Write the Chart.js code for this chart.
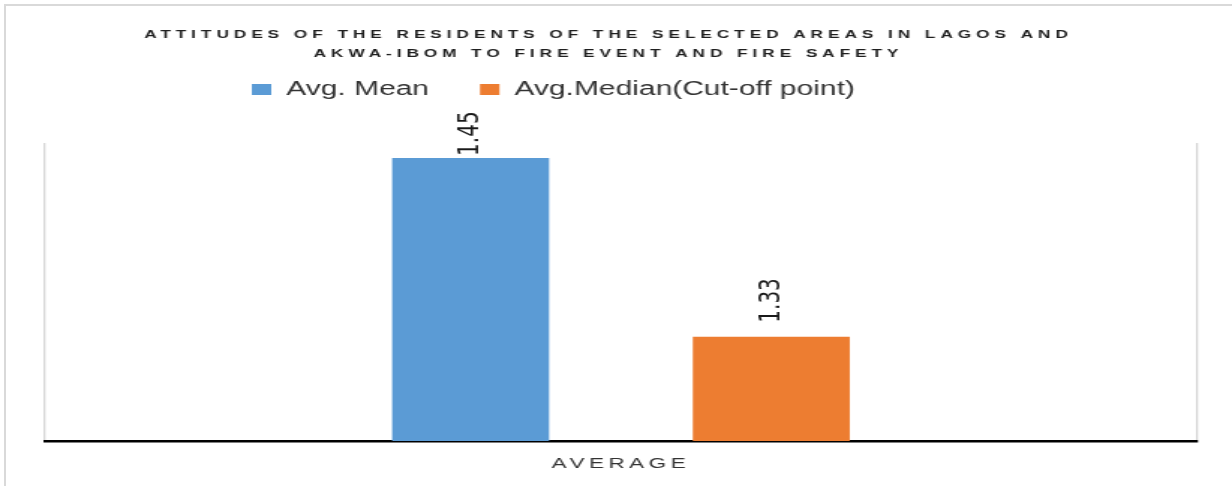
<!DOCTYPE html>
<html>
<head>
<meta charset="utf-8">
<script src="https://cdn.jsdelivr.net/npm/chart.js@4.4.0/dist/chart.umd.min.js"></script>
<style>
    html, body { margin: 0; padding: 0; background: #fff; }
    #wrap { position: relative; width: 1232px; height: 486px; overflow: hidden; background: #fff; }
    #frame { position: absolute; left: 4px; top: 4px; right: 0; bottom: 0;
             border-top: 2px solid #d9d9d9; border-left: 2px solid #d9d9d9; }
    /* the picture is stretched sideways, so draw narrow and scale it out */
    #chart { position: absolute; left: 0; top: 0; width: 822px; height: 486px;
             transform: scaleX(1.49878); transform-origin: 0 0; }
</style>
</head>
<body>
<div id="wrap">
    <div id="frame"></div>
    <canvas id="chart" width="822" height="486"></canvas>
</div>
<script>
var titleLines = [
    'ATTITUDES OF THE RESIDENTS OF THE SELECTED AREAS IN LAGOS AND',
    'AKWA-IBOM TO FIRE EVENT AND FIRE SAFETY'
];
var categories = ['AVERAGE'];
var seriesNames = ['Avg. Mean', 'Avg.Median(Cut-off point)'];
var meanValues = [1.45];
var medianValues = [1.33];
var yMin = 1.26;
var yMax = 1.46;

// letter spacing for one drawing method of a chart box
function spaceOut(obj, method, spacing) {
    if (!obj || obj[method]._spaced) return;
    var orig = obj[method];
    obj[method] = function () {
        var ctx = this.ctx;
        ctx.save();
        ctx.letterSpacing = spacing;
        orig.apply(this, arguments);
        ctx.restore();
    };
    obj[method]._spaced = true;
}

var spacedText = {
    id: 'spacedText',
    beforeDraw: function (chart) {
        spaceOut(chart.titleBlock, 'draw', '3.3px');
        spaceOut(chart.scales.x, 'drawLabels', '3px');
    }
};

var legendPlace = {
    id: 'legendPlace',
    afterLayout: function (chart, args, opts) {
        var lg = chart.legend;
        var w = lg.width, h = lg.height;
        lg.left = opts.x;
        lg.right = opts.x + w;
        lg.top = opts.y;
        lg.bottom = opts.y + h;
    }
};

var barLabels = {
    id: 'barLabels',
    afterDatasetsDraw: function (chart, args, opts) {
        var ctx = chart.ctx;
        chart.data.datasets.forEach(function (ds, i) {
            var meta = chart.getDatasetMeta(i);
            meta.data.forEach(function (bar, j) {
                ctx.save();
                ctx.translate(bar.x, bar.y - opts.gaps[i]);
                ctx.rotate(-Math.PI / 2);
                ctx.font = opts.font;
                ctx.fillStyle = opts.color;
                ctx.textAlign = 'left';
                ctx.textBaseline = 'middle';
                ctx.fillText(ds.data[j].toFixed(2), 0, 0);
                ctx.restore();
            });
        });
    }
};

new Chart(document.getElementById('chart'), {
    type: 'bar',
    data: {
        labels: categories,
        datasets: [{
            label: seriesNames[0],
            data: meanValues,
            backgroundColor: '#5B9BD5',
            categoryPercentage: 0.522,
            barPercentage: 0.522
        }, {
            label: seriesNames[1],
            data: medianValues,
            backgroundColor: '#ED7D31',
            categoryPercentage: 0.522,
            barPercentage: 0.522
        }]
    },
    options: {
        responsive: false,
        animation: false,
        devicePixelRatio: 1,
        layout: { padding: { left: 13.4, right: 23.4, top: 0, bottom: 0 } },
        plugins: {
            title: {
                display: true,
                text: titleLines,
                color: '#1f1f1f',
                font: { family: 'Liberation Sans', size: 11.5, weight: 'bold', lineHeight: '19px' },
                padding: { top: 25.5, bottom: 15.5 }
            },
            legend: {
                display: true,
                align: 'start',
                labels: {
                    boxWidth: 13,
                    boxHeight: 11,
                    padding: 34,
                    color: '#333333',
                    font: { family: 'Liberation Sans', size: 20 }
                }
            },
            tooltip: { enabled: false },
            legendPlace: { x: 134, y: 45.5 },
            barLabels: {
                gaps: [2, 14],
                font: '20px "DejaVu Sans"',
                color: '#1a1a1a'
            }
        },
        scales: {
            x: {
                offset: true,
                grid: { color: '#d6d6d6', lineWidth: 1.3, drawTicks: false, offset: true },
                border: { color: '#000000', width: 2.5 },
                ticks: {
                    padding: 14,
                    color: '#333333',
                    font: { family: 'Liberation Sans', size: 15 }
                },
                afterFit: function (scale) { scale.height = 45; }
            },
            y: {
                min: yMin,
                max: yMax,
                grid: { display: false },
                border: { display: false },
                ticks: { display: false },
                afterFit: function (scale) { scale.width = 16.6; }
            }
        }
    },
    plugins: [spacedText, legendPlace, barLabels]
});
</script>
</body>
</html>
